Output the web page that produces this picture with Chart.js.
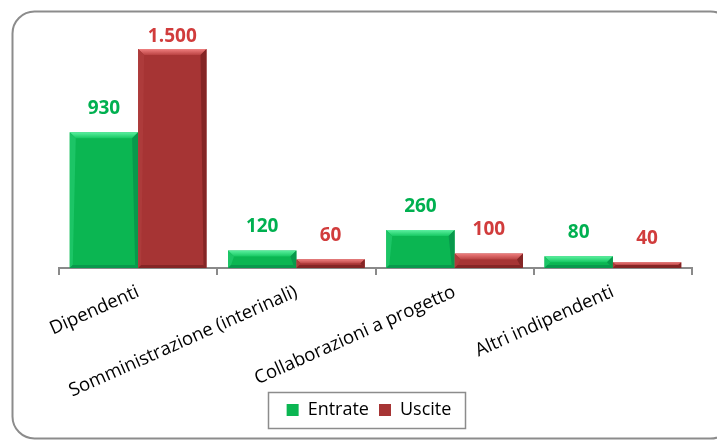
<!DOCTYPE html>
<html>
<head>
<meta charset="utf-8">
<script src="https://cdn.jsdelivr.net/npm/chart.js@4.4.1/dist/chart.umd.min.js"></script>
<style>
  html, body { margin: 0; padding: 0; background: #fff; }
  #wrap { width: 717px; height: 441px; position: relative; }
</style>
</head>
<body>
<div id="wrap"><canvas id="c" width="717" height="441"></canvas></div>
<script>
// Categorie e valori (flussi di lavoro)
const categories = ['Dipendenti', 'Somministrazione (interinali)', 'Collaborazioni a progetto', 'Altri indipendenti'];
const entrate = [930, 120, 260, 80];
const uscite = [1500, 60, 100, 40];
const seriesNames = ['Entrate', 'Uscite'];

// Colori delle serie: base, riflesso superiore, bordi, colore etichetta
const palette = [
  { base: '#0bb652', hiTop: '#5cf0a0', hiBot: '#16c862', side: '#1cc566', dark: '#08994c', label: '#00b050' },
  { base: '#a63434', hiTop: '#f08080', hiBot: '#b94242', side: '#ad3b3b', dark: '#842525', label: '#d13c3c' }
];

const FONT = "'Open Sans', 'DejaVu Sans', sans-serif";

function formatIt(v) {
  return String(v).replace(/\B(?=(\d{3})+(?!\d))/g, '.');
}

// Cornice arrotondata attorno all'intero grafico
const framePlugin = {
  id: 'frame',
  beforeDraw(chart) {
    const ctx = chart.ctx;
    ctx.save();
    ctx.fillStyle = '#ffffff';
    ctx.fillRect(0, 0, chart.width, chart.height);
    const x = 12.5, y = 11.5, w = 720, h = 427, r = 22;
    ctx.beginPath();
    ctx.moveTo(x + r, y);
    ctx.lineTo(x + w - r, y);
    ctx.arcTo(x + w, y, x + w, y + r, r);
    ctx.lineTo(x + w, y + h - r);
    ctx.arcTo(x + w, y + h, x + w - r, y + h, r);
    ctx.lineTo(x + r, y + h);
    ctx.arcTo(x, y + h, x, y + h - r, r);
    ctx.lineTo(x, y + r);
    ctx.arcTo(x, y, x + r, y, r);
    ctx.closePath();
    ctx.strokeStyle = '#8c8c8c';
    ctx.lineWidth = 2;
    ctx.stroke();
    ctx.restore();
  }
};

// Effetto smussato sulle barre e etichette dei valori
function poly(ctx, pts, fill) {
  ctx.beginPath();
  ctx.moveTo(pts[0][0], pts[0][1]);
  for (let i = 1; i < pts.length; i++) ctx.lineTo(pts[i][0], pts[i][1]);
  ctx.closePath();
  ctx.fillStyle = fill;
  ctx.fill();
}

const bevelPlugin = {
  id: 'bevel',
  afterDatasetsDraw(chart) {
    const ctx = chart.ctx;
    ctx.save();
    chart.data.datasets.forEach((ds, i) => {
      const meta = chart.getDatasetMeta(i);
      const pal = palette[i];
      meta.data.forEach((bar) => {
        const p = bar.getProps(['x', 'y', 'base', 'width'], true);
        const L = p.x - p.width / 2, R = p.x + p.width / 2, T = p.y, B = p.base;
        const b = Math.min(6, (B - T) / 2);
        const s = Math.min(3, (B - T) / 2);
        const g = ctx.createLinearGradient(0, T, 0, T + b);
        g.addColorStop(0, pal.hiTop);
        g.addColorStop(1, pal.hiBot);
        poly(ctx, [[L, T], [R, T], [R - b, T + b], [L + b, T + b]], g);
        poly(ctx, [[L, T], [L + b, T + b], [L + s, B - s], [L, B]], pal.side);
        poly(ctx, [[R, T], [R, B], [R - s, B - s], [R - b, T + b]], pal.dark);
        poly(ctx, [[L, B], [L + s, B - s], [R - s, B - s], [R, B]], pal.dark);
      });
    });
    ctx.restore();
  },
  afterDraw(chart) {
    const ctx = chart.ctx;
    ctx.save();
    ctx.textAlign = 'center';
    ctx.textBaseline = 'alphabetic';
    ctx.font = 'bold 19px ' + FONT;
    chart.data.datasets.forEach((ds, i) => {
      const meta = chart.getDatasetMeta(i);
      ctx.fillStyle = palette[i].label;
      meta.data.forEach((bar, j) => {
        const y = Math.max(bar.y - 18, 42);
        ctx.fillText(formatIt(ds.data[j]), bar.x, y);
      });
    });

    // riquadro della legenda
    const hb = chart.legend && chart.legend.legendHitBoxes;
    if (hb && hb.length) {
      const first = hb[0], last = hb[hb.length - 1];
      const cy = first.top + first.height / 2;
      const left = Math.round(first.left - 19) + 0.5;
      const right = Math.round(last.left + last.width + 14) + 0.5;
      ctx.strokeStyle = '#8c8c8c';
      ctx.lineWidth = 1.5;
      ctx.strokeRect(left, Math.round(cy - 18) + 0.5, right - left, 36);
    }
    ctx.restore();
  }
};

const CHART_BOTTOM = 268;
const PAD_BOTTOM = 12;

new Chart(document.getElementById('c'), {
  type: 'bar',
  data: {
    labels: categories,
    datasets: [
      { label: seriesNames[0], data: entrate, backgroundColor: palette[0].base, borderWidth: 0 },
      { label: seriesNames[1], data: uscite, backgroundColor: palette[1].base, borderWidth: 0 }
    ]
  },
  options: {
    responsive: false,
    animation: false,
    devicePixelRatio: 1,
    layout: { padding: { left: 46, right: 25, top: 49, bottom: PAD_BOTTOM } },
    datasets: { bar: { categoryPercentage: 0.864, barPercentage: 1.0 } },
    plugins: {
      tooltip: { enabled: false },
      legend: {
        position: 'bottom',
        labels: {
          boxWidth: 12,
          boxHeight: 12,
          padding: 10,
          color: '#000',
          font: { family: FONT, size: 18 }
        }
      }
    },
    scales: {
      x: {
        z: 1,
        offset: true,
        grid: { display: true, drawOnChartArea: false, drawTicks: true, tickLength: 7, color: '#8a8a8a', lineWidth: 2, offset: true },
        border: { display: true, color: '#8a8a8a', width: 2 },
        ticks: {
          autoSkip: false,
          minRotation: 24,
          maxRotation: 24,
          padding: 6,
          color: '#000',
          font: { family: FONT, size: 18.5 }
        },
        afterFit(scale) {
          const lh = scale.chart.legend ? scale.chart.legend.height : 38;
          scale.height = scale.chart.height - PAD_BOTTOM - lh - CHART_BOTTOM;
          // le etichette inclinate possono scendere accanto alla legenda
          scale._computeLabelArea = function () { return undefined; };
        }
      },
      y: {
        display: true,
        min: 0,
        max: 1500,
        grid: { display: false },
        border: { display: false },
        ticks: { display: false },
        afterFit(scale) { scale.width = 13; }
      }
    }
  },
  plugins: [framePlugin, bevelPlugin]
});
</script>
</body>
</html>
